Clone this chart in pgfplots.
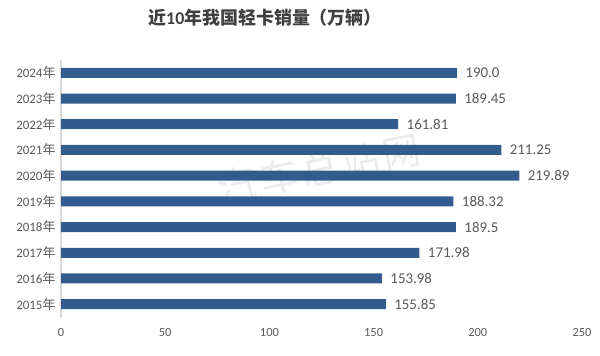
\documentclass[border=0pt]{standalone}
\usepackage{pgfplots}
\pgfplotsset{compat=1.18}
\usepackage{fontspec}
\setmainfont{Carlito}
\newfontfamily\cjk{Noto Sans CJK SC}
\definecolor{barblue}{HTML}{335C8E}
\definecolor{txt}{HTML}{595959}
\definecolor{ttl}{HTML}{404040}
\pgfplotstableread{
y x label
0 155.85 155.85
1 153.98 153.98
2 171.98 171.98
3 189.5 189.5
4 188.32 188.32
5 219.89 219.89
6 211.25 211.25
7 161.81 161.81
8 189.45 189.45
9 190.0 190.0
}\sales
\begin{document}
\begin{tikzpicture}[x=1bp,y=1bp]
\path[use as bounding box] (0,0) rectangle (600,355);
\begin{scope}[every node/.style={rotate=11, text=black!8, inner sep=0pt, font=\cjk\fontsize{38}{38}\selectfont}]
\node at (237,170) {汽};
\node at (279,178) {车};
\node at (320,186) {总};
\node at (361,194) {站};
\node at (402,202) {网};
\end{scope}
\node[text=ttl, font=\cjk\bfseries\fontsize{18}{18}\selectfont] at (265,337) {近{\rmfamily\bfseries 10}年我国轻卡销量（万辆）};
\begin{axis}[
  at={(61bp,38bp)}, anchor=south west,
  width=521bp, height=257bp, scale only axis,
  xbar, bar width=10bp,
  xmin=0, xmax=250, ymin=-0.5, ymax=9.5,
  xtick={0,50,...,250},
  ytick={0,...,9},
  yticklabels={2015{\cjk 年},2016{\cjk 年},2017{\cjk 年},2018{\cjk 年},2019{\cjk 年},2020{\cjk 年},2021{\cjk 年},2022{\cjk 年},2023{\cjk 年},2024{\cjk 年}},
  axis lines*=left,
  x axis line style={draw=none},
  y axis line style={draw=black!15, line width=1.2pt},
  major tick length=0pt,
  /pgf/number format/assume math mode=true,
  x tick label style={font=\fontsize{12.5}{12.5}\selectfont, text=txt, yshift=-8bp},
  y tick label style={font=\fontsize{13}{13}\selectfont, text=txt, xshift=-2bp},
  point meta=explicit symbolic,
  nodes near coords={\pgfplotspointmeta},
  every node near coord/.append style={anchor=west, font=\fontsize{15}{15}\selectfont, text=txt, xshift=5bp},
  clip=false,
]
\addplot[fill=barblue, draw=none] table[x=x, y=y, meta=label] {\sales};
\end{axis}
\end{tikzpicture}
\end{document}
